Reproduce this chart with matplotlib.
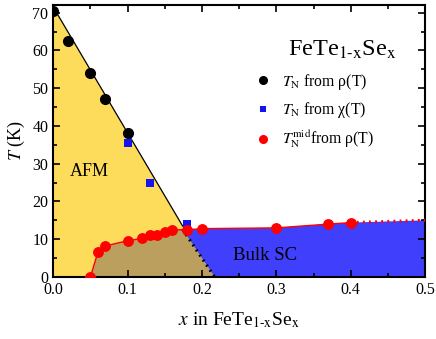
import numpy as np
import matplotlib
matplotlib.use("Agg")
import matplotlib.pyplot as plt
from matplotlib.lines import Line2D

plt.rcParams["font.family"] = ["Liberation Serif", "DejaVu Serif"]
plt.rcParams["mathtext.fontset"] = "stix"

# --- data ---
# T_N from rho(T)
x_rho = [0.0, 0.02, 0.05, 0.07, 0.10]
tn_rho = [70.5, 62.5, 54.0, 47.0, 38.0]
# T_N from chi(T)
x_chi = [0.10, 0.13, 0.18]
tn_chi = [35.5, 25.0, 14.0]
# T_N^mid (Tc) from rho(T)
x_sc = [0.05, 0.06, 0.07, 0.10, 0.12, 0.13, 0.14, 0.15, 0.16, 0.18, 0.20, 0.30, 0.37, 0.40]
tc_sc = [0.0, 6.5, 8.2, 9.6, 10.2, 11.0, 11.0, 12.0, 12.5, 12.5, 12.8, 13.0, 14.0, 14.4]
# extrapolation of Tc beyond the last point
x_ext = [0.40, 0.50]
tc_ext = [14.4, 15.0]
# phase boundaries
x_afm = [0.0, 0.174]          # AFM line
t_afm = [71.5, 13.5]
x_bulk = [0.174, 0.217]       # bulk SC boundary (dotted)
t_bulk = [12.6, 0.0]

YEL = "#FEDC5B"
BRN = "#BA9F5E"
BLU = "#3F3FFC"
SQ = "#1414EE"

fig = plt.figure(figsize=(4.36, 3.39), dpi=100)
ax = fig.add_axes([0.122, 0.183, 0.853, 0.802])

# AFM (yellow)
ax.fill([0, x_afm[0], x_afm[1], x_bulk[1]], [0, t_afm[0], t_afm[1], 0],
        color=YEL, lw=0, zorder=1)
# coexistence (brown): under Tc curve, left of bulk boundary
xs = np.array(x_sc); ts = np.array(tc_sc)
m = xs < x_bulk[0]
bx = list(xs[m]) + [x_bulk[0], x_bulk[1]]
bt = list(ts[m]) + [t_bulk[0], t_bulk[1]]
ax.fill(bx, bt, color=BRN, lw=0, zorder=1.2)
# bulk SC (blue)
m2 = xs > x_bulk[0]
cx = [x_bulk[0]] + list(xs[m2]) + [x_ext[1], x_ext[1], x_bulk[1]]
ct = [t_bulk[0]] + list(ts[m2]) + [tc_ext[1], 0, 0]
ax.fill(cx, ct, color=BLU, lw=0, zorder=1.2)

ax.plot(x_afm, t_afm, color="black", lw=0.9, zorder=2)
ax.plot(x_bulk, t_bulk, color="black", lw=2.2, ls=(0, (0.6, 1.4)), zorder=2)
ax.plot(x_sc, tc_sc, color="red", lw=1.0, zorder=3)
ax.plot(x_ext, tc_ext, color="red", lw=2.2, ls=(0, (0.6, 1.4)), zorder=3)

ax.plot(x_rho, tn_rho, "o", color="black", ms=7, zorder=4)
ax.plot(x_chi, tn_chi, "s", color=SQ, ms=5.2, mew=0, zorder=4)
ax.plot(x_sc, tc_sc, "o", color="red", ms=6.8, zorder=4)

ax.text(0.023, 28, "AFM", fontsize=13, va="center", ha="left")
ax.text(0.242, 5.8, "Bulk SC", fontsize=13.5, va="center", ha="left")

# legend title as a separate text
ax.text(0.777, 0.812, r"FeTe$_\mathrm{1\text{-}x}$Se$_\mathrm{x}$",
        transform=ax.transAxes, fontsize=17.5, ha="center", va="baseline")

h = [Line2D([], [], ls="none", marker="o", color="black", ms=5.5),
     Line2D([], [], ls="none", marker="s", color=SQ, mew=0, ms=4.8),
     Line2D([], [], ls="none", marker="o", color="red", ms=5.5)]
lab = [r"$T_\mathrm{N}$ from ρ(T)", r"$T_\mathrm{N}$ from χ(T)",
       r"$T_\mathrm{N}^\mathrm{mid}$from ρ(T)"]
ax.legend(h, lab, loc="upper left", bbox_to_anchor=(0.542, 0.755),
          frameon=False, fontsize=11.3, handlelength=1.0, handletextpad=0.75,
          labelspacing=0.55, borderpad=0, borderaxespad=0)

ax.set_xlim(0, 0.5)
ax.set_ylim(0, 72)
ax.set_xticks(np.arange(0, 0.51, 0.1))
ax.set_xticks(np.arange(0.05, 0.5, 0.1), minor=True)
ax.set_yticks(np.arange(0, 71, 10))
ax.set_yticks(np.arange(5, 72, 10), minor=True)
ax.xaxis.set_major_formatter(matplotlib.ticker.FormatStrFormatter("%.1f"))
ax.tick_params(which="both", direction="in", top=True, right=True,
               labelsize=11.5, width=1.2)
ax.tick_params(which="major", length=5)
ax.tick_params(which="minor", length=3)
for s in ax.spines.values():
    s.set_linewidth(1.5)

ax.set_xlabel(r"$x$ in FeTe$_\mathrm{1\text{-}x}$Se$_\mathrm{x}$", fontsize=14,
              labelpad=9)
ax.set_ylabel(r"$T$ (K)", fontsize=13)

fig.savefig("out.png", dpi=100)
